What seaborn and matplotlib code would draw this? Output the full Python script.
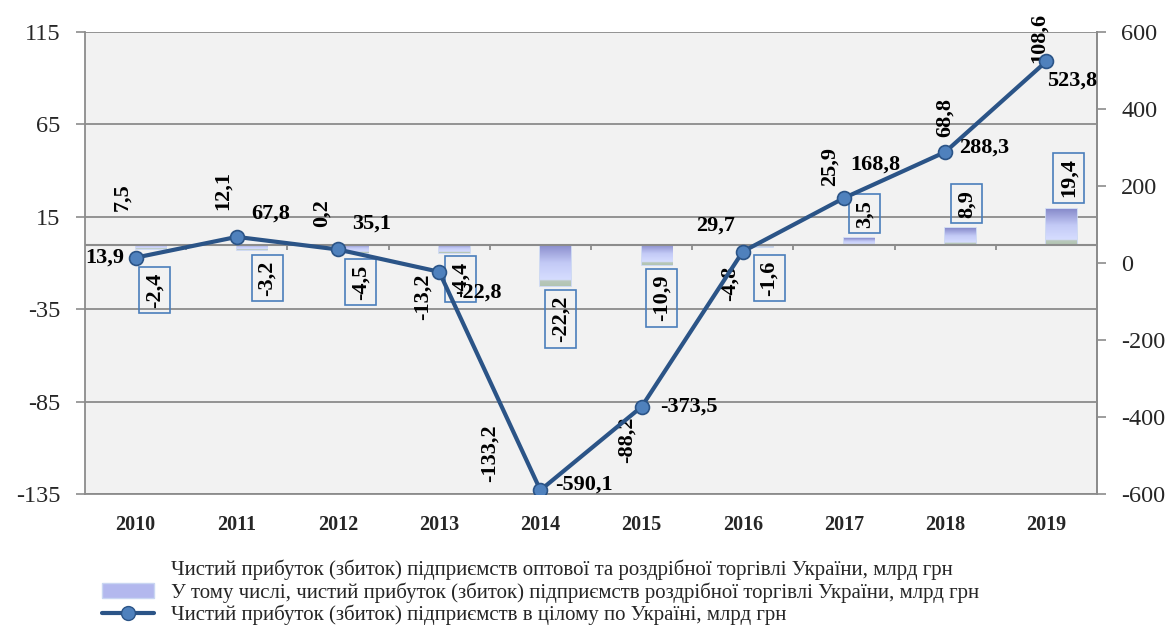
import numpy as np
import pandas as pd
import matplotlib
matplotlib.use('Agg')
import matplotlib.pyplot as plt
import seaborn as sns
from matplotlib.colors import LinearSegmentedColormap
from matplotlib.lines import Line2D
from matplotlib.patches import Patch

# ---------------- data ----------------
years = ['2010', '2011', '2012', '2013', '2014', '2015', '2016', '2017', '2018', '2019']
wholesale_retail = [7.5, 12.1, 0.2, -13.2, -133.2, -88.2, -4.8, 25.9, 68.8, 108.6]
retail = [-2.4, -3.2, -4.5, -4.4, -22.2, -10.9, -1.6, 3.5, 8.9, 19.4]
total = [13.9, 67.8, 35.1, -22.8, -590.1, -373.5, 29.7, 168.8, 288.3, 523.8]

series_names = [
    'Чистий прибуток (збиток) підприємств оптової та роздрібної торгівлі України, млрд грн',
    'У тому числі, чистий прибуток (збиток) підприємств роздрібної торгівлі України, млрд грн',
    'Чистий прибуток (збиток) підприємств в цілому по Україні, млрд грн',
]
left_ticks = [-135, -85, -35, 15, 65, 115]
right_ticks = [-600, -400, -200, 0, 200, 400, 600]

# ---------------- label placement (layout only) ----------------
wt_label_dx = [-0.13, -0.14, -0.16, -0.16, -0.50, -0.15, -0.13, -0.14, 0.0, -0.07]
wt_label_y = [25.7, 29.5, 17.0, -28.4, -112.8, -105.8, -20.8, 42.0, 68.5, 112.0]
rt_label_dx = [0.19, 0.30, 0.22, 0.21, 0.20, 0.20, 0.26, 0.20, 0.21, 0.22]
rt_label_y = [-24.6, -18.1, -20.3, -18.7, -40.3, -28.9, -18.1, 16.6, 22.1, 36.0]
# offsets in pixels (dx right, dy down)
line_label_off = [(-31, 0), (34, -23), (34, -26), (39, 21), (44, -6), (47, 0),
                  (-27, -26), (31, -33), (39, -4), (26, 19)]

line_color = '#2b5487'
marker_face = '#4f81bd'
grid_color = '#8c8c8c'
box_color = '#4a7ebb'


def fmt(v):
    return f'{v:.1f}'.replace('.', ',')


sns.set_theme(style='white')
plt.rcParams['font.family'] = ['Liberation Serif', 'DejaVu Serif']

df = pd.DataFrame({
    'year': years * 2,
    'value': wholesale_retail + retail,
    'series': [series_names[0]] * len(years) + [series_names[1]] * len(years),
})

W, H = 1171, 625
fig = plt.figure(figsize=(W / 100, H / 100), dpi=100)
ax = fig.add_axes([85 / W, 1 - 494 / H, (1097 - 85) / W, (494 - 32) / H])
ax.set_facecolor('#f2f2f2')
ax.set_axisbelow(True)

sns.barplot(data=df, x='year', y='value', hue='series', order=years,
            hue_order=series_names[:2], width=0.6, gap=0,
            palette=['#ffffff', '#b3b8ee'], errorbar=None, legend=False, ax=ax)

# first series: invisible bars
for p in ax.containers[0]:
    p.set_facecolor('none')
    p.set_edgecolor('none')

# retail bars: vertical gradient
cmap = LinearSegmentedColormap.from_list(
    'g', [(0.0, '#888bcb'), (0.45, '#c3caf6'), (0.85, '#d6ddff'), (0.88, '#b9c8bb'), (1.0, '#b2c4b2')])
grad = np.linspace(0, 1, 200).reshape(-1, 1)
for p in ax.containers[1]:
    x0, w = p.get_x(), p.get_width()
    y0, h = p.get_y(), p.get_height()
    bot, top = min(y0, y0 + h), max(y0, y0 + h)
    p.set_facecolor('none')
    p.set_edgecolor('#c9d6f2')
    p.set_linewidth(1.2)
    im = ax.imshow(grad, extent=[x0, x0 + w, bot, top], aspect='auto', cmap=cmap,
                   origin='upper', zorder=p.get_zorder() + 0.1, interpolation='bilinear')
    im.set_clip_path(p)

ax.set_xlim(-0.5, len(years) - 0.5)
ax.set_ylim(left_ticks[0], left_ticks[-1])
ax.set_yticks(left_ticks)
ax.set_yticklabels([str(t) for t in left_ticks])
ax.yaxis.grid(True, color=grid_color, lw=1.3)
ax.xaxis.grid(False)
ax.set_xticks(range(len(years)))
ax.set_xticklabels(years, fontweight='bold', fontsize=14.5)
ax.tick_params(axis='x', length=0, pad=15, bottom=False)
ax.tick_params(axis='y', left=True, length=6.5, width=1.2, color=grid_color,
               labelsize=17.5, pad=11, direction='out')
ax.set_xlabel('')
ax.set_ylabel('')
for s in ['left', 'bottom', 'top', 'right']:
    ax.spines[s].set_color(grid_color)
    ax.spines[s].set_linewidth(1.3)
ax.spines['top'].set_visible(False)

# category axis at zero with boundary tick marks
ax.axhline(0, color=grid_color, lw=1.5, zorder=1.5)
ax.vlines(np.arange(len(years) - 1) + 0.5, -2.7, 0, color=grid_color, lw=1.3, zorder=1.5)

# data labels: wholesale+retail
for i, v in enumerate(wholesale_retail):
    ax.text(i + wt_label_dx[i], wt_label_y[i], fmt(v), rotation=90, ha='center', va='center',
            fontweight='bold', fontsize=16, color='black', zorder=5)

# data labels: retail (boxed)
for i, v in enumerate(retail):
    ax.text(i + rt_label_dx[i], rt_label_y[i], fmt(v), rotation=90, ha='center', va='center',
            fontweight='bold', fontsize=16, color='black', zorder=5,
            bbox=dict(boxstyle='square,pad=0.25', fc='none', ec=box_color, lw=1.2))

# line on secondary axis
ax2 = ax.twinx()
xpos = np.arange(len(years))
sns.lineplot(x=xpos, y=total, ax=ax2, color=line_color, lw=3.0, marker='o', markersize=10,
             markerfacecolor=marker_face, markeredgecolor=line_color, markeredgewidth=1.2,
             zorder=6)
ax2.set_ylim(right_ticks[0], right_ticks[-1])
ax2.set_yticks(right_ticks)
ax2.set_yticklabels([str(t) for t in right_ticks])
ax2.tick_params(axis='y', right=True, length=6.5, width=1.2, color=grid_color,
                labelsize=17.5, pad=11, direction='out')
ax2.set_ylabel('')
ax2.grid(False)
for s in ['left', 'bottom', 'top']:
    ax2.spines[s].set_visible(False)
ax2.spines['right'].set_color(grid_color)
ax2.spines['right'].set_linewidth(1.3)

for i, v in enumerate(total):
    dx, dy = line_label_off[i]
    ax2.annotate(fmt(v), xy=(xpos[i], v), xytext=(dx * 0.72, -dy * 0.72), textcoords='offset points',
                 ha='center', va='center', fontweight='bold', fontsize=16, color='black', zorder=7)

# legend
handles = [
    Patch(facecolor='none', edgecolor='none'),
    Patch(facecolor='#b3b8ee', edgecolor='#c9d6f2'),
    Line2D([0], [0], color=line_color, lw=3.0, marker='o', markersize=10,
           markerfacecolor=marker_face, markeredgecolor=line_color),
]
fig.legend(handles=handles, labels=series_names, loc='upper left',
           bbox_to_anchor=(102 / W, 1 - 560 / H), frameon=False, fontsize=15,
           handlelength=2.5, handletextpad=0.8, labelspacing=0.08, borderpad=0, borderaxespad=0)

fig.savefig('out.png', dpi=100)
